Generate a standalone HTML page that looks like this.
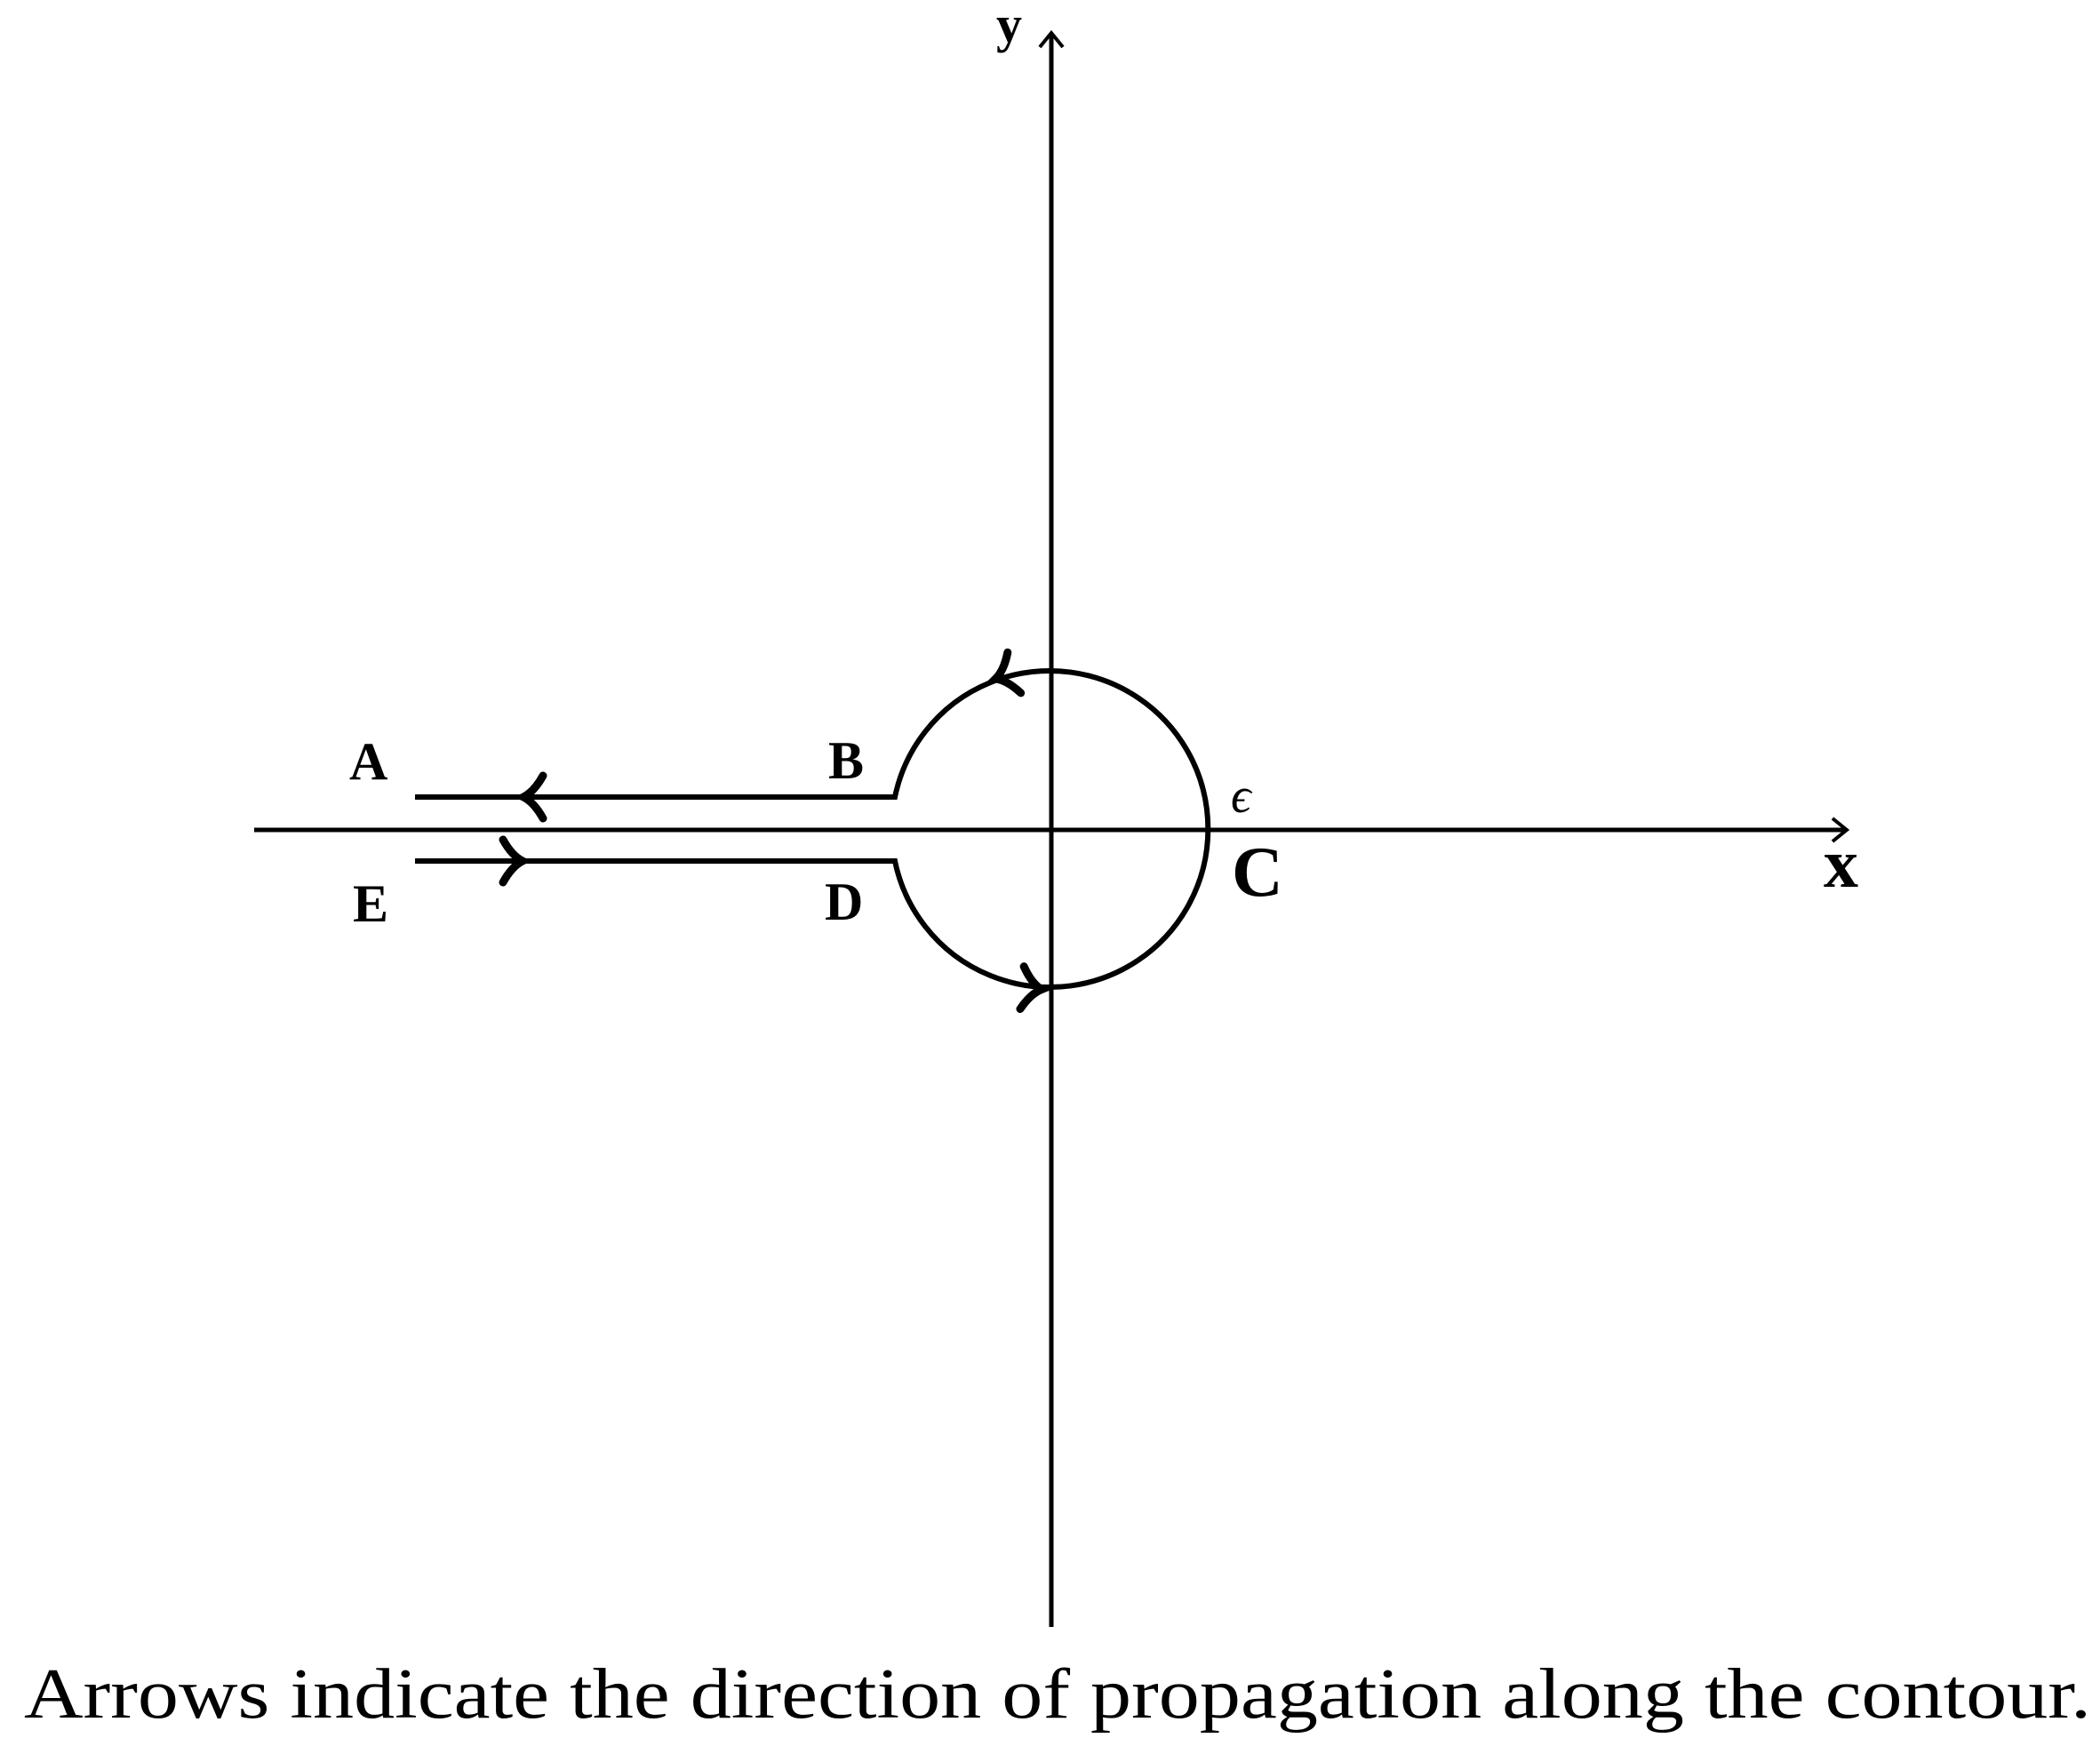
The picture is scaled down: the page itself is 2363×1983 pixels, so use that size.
<!DOCTYPE html>
<html><head><meta charset="utf-8"><style>
html,body{margin:0;padding:0;background:#fff;}
svg{display:block;}
text{font-family:"Liberation Serif",serif;fill:#000;}
</style></head><body>
<svg width="2363" height="1983" viewBox="0 0 2363 1983" xmlns="http://www.w3.org/2000/svg">
<g stroke="#000" fill="none" stroke-width="5">
<line x1="286" y1="934" x2="2077" y2="934"/>
<line x1="1183" y1="1831" x2="1183" y2="38"/>
<path d="M2062 921 L2078 934 L2062 947" stroke-width="4"/>
<path d="M1170 53 L1183 37 L1196 53" stroke-width="4"/>
<path d="M467 897 L1007 897 A178 178 0 1 1 1007 969 L467 969" stroke-width="6"/>
</g>
<g stroke="#000" fill="none" stroke-width="9" stroke-linecap="round">
<path d="M16 -24 Q6 -6 -6 0 Q6 6 16 24" transform="translate(595,897)"/>
<path d="M-16 -24 Q-6 -6 6 0 Q-6 6 -16 24" transform="translate(582,969)"/>
<path d="M16 -24 Q6 -6 -6 0 Q6 6 16 24" transform="translate(1126,762) rotate(-18)"/>
<path d="M-16 -24 Q-6 -6 6 0 Q-6 6 -16 24" transform="translate(1166,1113) rotate(5)"/>
</g>
<g font-weight="bold" font-size="60">
<text x="393" y="877">A</text>
<text x="932" y="876">B</text>
<text x="397" y="1037">E</text>
<text x="928" y="1035">D</text>
<text x="1386" y="1008" font-size="80">C</text>
<text x="1121" y="47" font-size="58">y</text>
<text x="2052" y="998" font-size="78">x</text>
</g>
<text x="1385" y="914" font-size="56" font-style="italic">ϵ</text>
<text x="27" y="1933" font-size="80" textLength="2326" lengthAdjust="spacingAndGlyphs">Arrows indicate the direction of propagation along the contour.</text>
</svg>
</body></html>
